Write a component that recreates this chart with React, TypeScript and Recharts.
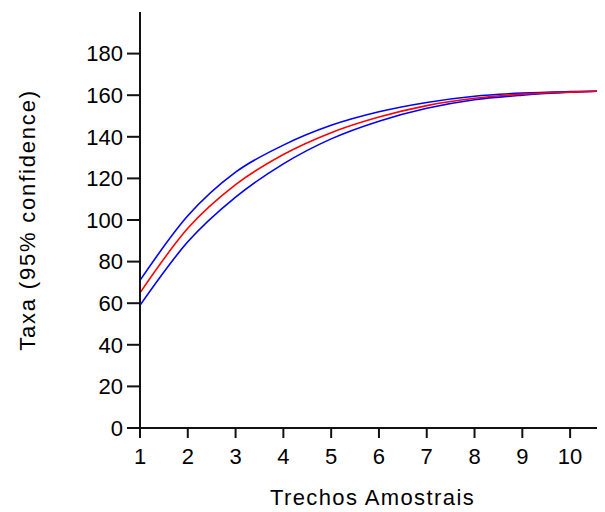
import { LineChart, Line, XAxis, YAxis } from "recharts";

// rarefaction curve with 95% interval
const trechos = [1, 2, 3, 4, 5, 6, 7, 8, 9, 10, 10.73];
const upper = [71, 102, 123, 136, 145.5, 152, 156.5, 159.5, 161, 161.7, 162];
const mean = [65, 96, 117, 131.5, 142, 149.5, 155, 158.5, 160.5, 161.5, 162];
const lower = [59, 89.5, 111, 127, 139, 147.5, 153.7, 157.8, 160, 161.4, 162];

const xTicks = [1, 2, 3, 4, 5, 6, 7, 8, 9, 10];
const yTicks = [0, 20, 40, 60, 80, 100, 120, 140, 160, 180];

const FONT = "'Liberation Sans', Arial, sans-serif";

export default function App() {
  const data = trechos.map((t, i) => ({
    t,
    upper: upper[i],
    mean: mean[i],
    lower: lower[i],
  }));

  const tick = { fontSize: 22, fill: "#000", fontFamily: FONT };
  const axisLine = { stroke: "#111", strokeWidth: 2 };

  return (
    <LineChart
      width={597}
      height={504}
      data={data}
      margin={{ top: 4, right: 0, left: 0, bottom: 0 }}
    >
      <XAxis
        dataKey="t"
        type="number"
        domain={[1, 10.73]}
        ticks={xTicks}
        allowDataOverflow
        height={84}
        tick={tick}
        tickSize={10}
        tickMargin={10}
        axisLine={axisLine}
        tickLine={axisLine}
        label={{
          value: "Trechos Amostrais",
          position: "center",
          dy: 27,
          style: { fontSize: 22, fill: "#000", fontFamily: FONT, letterSpacing: 1.4 },
        }}
      />
      <YAxis
        type="number"
        domain={[0, 200]}
        ticks={yTicks}
        width={132}
        tick={tick}
        tickSize={13}
        tickMargin={4}
        axisLine={axisLine}
        tickLine={axisLine}
        label={{
          value: "Taxa (95% confidence)",
          angle: -90,
          position: "center",
          dx: -47,
          style: {
            fontSize: 22,
            fill: "#000",
            fontFamily: FONT,
            textAnchor: "middle",
            letterSpacing: 1.8,
          },
        }}
      />
      <Line
        type="monotone"
        dataKey="upper"
        stroke="#0000ff"
        strokeWidth={1.6}
        dot={false}
        isAnimationActive={false}
      />
      <Line
        type="monotone"
        dataKey="lower"
        stroke="#0000ff"
        strokeWidth={1.6}
        dot={false}
        isAnimationActive={false}
      />
      <Line
        type="monotone"
        dataKey="mean"
        stroke="#ff0000"
        strokeWidth={1.6}
        dot={false}
        isAnimationActive={false}
      />
    </LineChart>
  );
}
